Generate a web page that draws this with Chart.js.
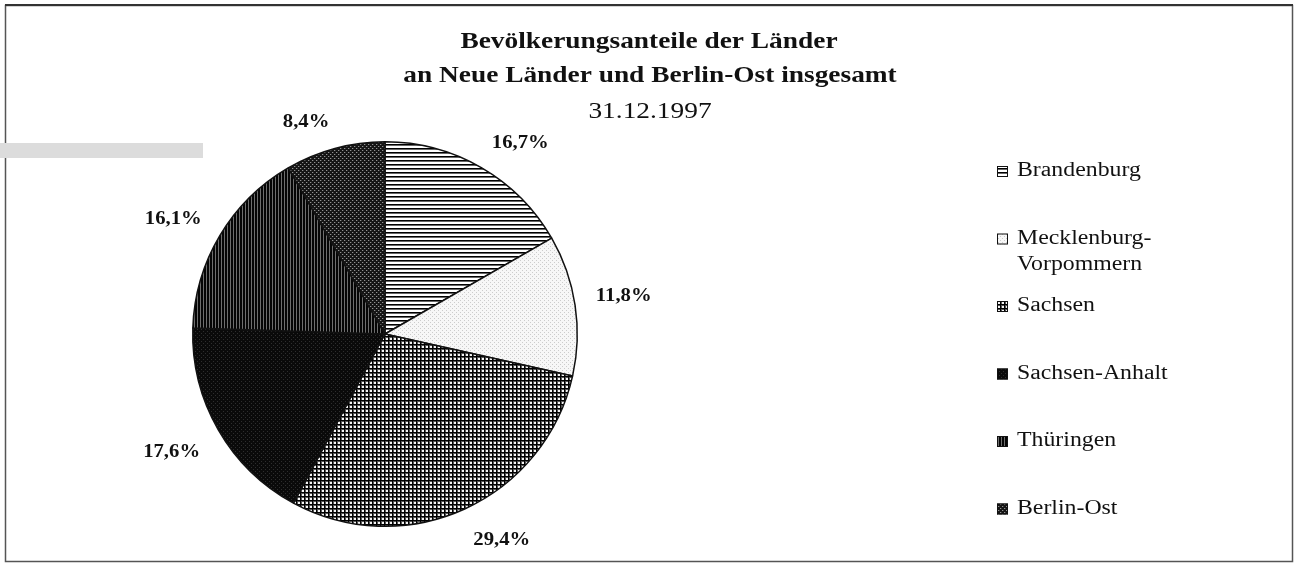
<!DOCTYPE html>
<html>
<head>
<meta charset="utf-8">
<script src="https://cdn.jsdelivr.net/npm/chart.js@4.4.0/dist/chart.umd.min.js"></script>
<style>
  body { margin: 0; background: #fff; }
  #wrap { position: relative; width: 1296px; height: 563px; }
  #scanbar { position: absolute; left: 0; top: 143px; width: 203px; height: 15px; background: #dcdcdc; }
</style>
</head>
<body>
<div id="wrap">
  <canvas id="myChart" width="1296" height="563"></canvas>
  <div id="scanbar"></div>
</div>
<script>
const laender = ["Brandenburg", "Mecklenburg-Vorpommern", "Sachsen", "Sachsen-Anhalt", "Thüringen", "Berlin-Ost"];
const anteile = [16.7, 11.8, 29.4, 17.6, 16.1, 8.4];
const anteilLabels = ["16,7%", "11,8%", "29,4%", "17,6%", "16,1%", "8,4%"];
const legendLines = [["Brandenburg"], ["Mecklenburg-", "Vorpommern"], ["Sachsen"], ["Sachsen-Anhalt"], ["Thüringen"], ["Berlin-Ost"]];
const titleLines = ["Bevölkerungsanteile der Länder", "an Neue Länder und Berlin-Ost insgesamt"];
const subTitle = "31.12.1997";

const canvas = document.getElementById("myChart");
const ctx = canvas.getContext("2d");

// small tiles for the hatch fills
function makePattern(size, draw) {
  const c = document.createElement("canvas");
  c.width = size;
  c.height = size;
  const g = c.getContext("2d");
  draw(g, size);
  return ctx.createPattern(c, "repeat");
}

const fills = [
  makePattern(4, (g, s) => { g.fillStyle = "#fff"; g.fillRect(0, 0, s, s); g.fillStyle = "#000"; g.fillRect(0, 0, s, 1.6); }),
  makePattern(4, (g, s) => { g.fillStyle = "#f7f7f7"; g.fillRect(0, 0, s, s); g.fillStyle = "#cccccc"; g.fillRect(0, 0, 1, 1); g.fillRect(2, 2, 1, 1); }),
  makePattern(4, (g, s) => {
    g.fillStyle = "#f4f4f4"; g.fillRect(0, 0, s, s);
    g.fillStyle = "#555"; g.fillRect(0, 1, s, 1); g.fillRect(1, 0, 1, s);
    g.fillStyle = "#000"; g.fillRect(0, 0, s, 1); g.fillRect(0, 0, 1, s);
  }),
  makePattern(4, (g, s) => { g.fillStyle = "#0a0a0a"; g.fillRect(0, 0, s, s); g.fillStyle = "#2e2e2e"; g.fillRect(1, 1, 1, 1); g.fillRect(3, 3, 1, 1); }),
  makePattern(3, (g, s) => { g.fillStyle = "#6e6e6e"; g.fillRect(0, 0, s, s); g.fillStyle = "#050505"; g.fillRect(0, 0, 2, s); }),
  makePattern(4, (g, s) => {
    g.fillStyle = "#151515"; g.fillRect(0, 0, s, s);
    g.fillStyle = "#929292"; g.fillRect(0, 0, 1, 1); g.fillRect(2, 2, 1, 1);
    g.fillStyle = "#3a3a3a"; g.fillRect(1, 0, 1, 1); g.fillRect(3, 2, 1, 1);
  }),
];

const serif = '"Liberation Serif", "Times New Roman", serif';
const stretch = 1.19; // the scan is wider than tall

function drawStretched(c, text, x, y, align, sx) {
  const w = c.measureText(text).width * sx;
  let left = x;
  if (align === "center") left = x - w / 2;
  c.save();
  c.translate(left, y);
  c.scale(sx, 1);
  c.textAlign = "left";
  c.fillText(text, 0, 0);
  c.restore();
}

const decorations = {
  id: "decorations",
  beforeDraw(chart) {
    const c = chart.ctx;
    c.save();
    c.fillStyle = "#fff";
    c.fillRect(0, 0, chart.width, chart.height);
    c.strokeStyle = "#555";
    c.lineWidth = 1.5;
    c.strokeRect(5.5, 5.5, 1287, 556);
    c.strokeStyle = "#333";
    c.lineWidth = 2;
    c.beginPath();
    c.moveTo(5, 5);
    c.lineTo(1293, 5);
    c.stroke();
    c.restore();
  },
  afterDraw(chart) {
    const c = chart.ctx;
    c.save();
    c.fillStyle = "#111";
    c.textBaseline = "alphabetic";
    c.font = "bold 23px " + serif;
    drawStretched(c, titleLines[0], 649, 48, "center", stretch);
    drawStretched(c, titleLines[1], 650, 82, "center", stretch);
    c.font = "23px " + serif;
    drawStretched(c, subTitle, 650, 118, "center", stretch);

    // percentage labels outside the slices
    const meta = chart.getDatasetMeta(0);
    c.font = "bold 18px " + serif;
    c.textBaseline = "middle";
    meta.data.forEach((arc, i) => {
      const p = arc.getProps(["x", "y", "startAngle", "endAngle", "outerRadius"], true);
      const mid = (p.startAngle + p.endAngle) / 2;
      const dx = Math.cos(mid), dy = Math.sin(mid);
      const r = p.outerRadius + 21;
      const halfW = c.measureText(anteilLabels[i]).width * 1.15 / 2;
      const cx = p.x + dx * r + Math.sign(dx) * halfW;
      const cy = p.y + dy * r + Math.sign(dy) * 9 + 3;
      drawStretched(c, anteilLabels[i], cx, cy, "center", 1.15);
    });

    // legend
    c.font = "20px " + serif;
    legendLines.forEach((lines, i) => {
      const y = 171 + i * 67.5;
      c.fillStyle = fills[i];
      c.fillRect(997, y - 5, 11, 11);
      c.strokeStyle = "#111";
      c.lineWidth = 1;
      c.strokeRect(997.5, y - 4.5, 10, 10);
      c.fillStyle = "#111";
      lines.forEach((t, k) => drawStretched(c, t, 1017, y + k * 26, "left", stretch));
    });
    c.restore();
  },
};

new Chart(canvas, {
  type: "pie",
  data: {
    labels: laender,
    datasets: [
      {
        data: anteile,
        backgroundColor: fills,
        borderColor: "#111",
        borderWidth: 1.5,
      },
    ],
  },
  options: {
    responsive: false,
    animation: false,
    layout: { padding: { left: 192, right: 718, top: 141, bottom: 36 } },
    plugins: {
      legend: { display: false },
      tooltip: { enabled: false },
    },
  },
  plugins: [decorations],
});
</script>
</body>
</html>
